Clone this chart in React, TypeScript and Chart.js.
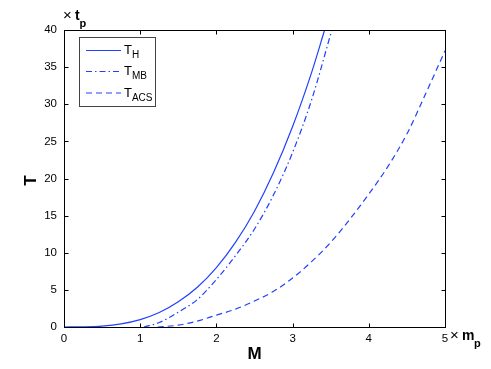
import React, { useEffect, useRef } from "react";
import { Chart, registerables } from "chart.js";

Chart.register(...registerables);

// T_H (solid)
const massH = [0, 0.25, 0.5, 0.75, 1, 1.25, 1.5, 1.75, 2, 2.25, 2.5, 2.75, 3, 3.25, 3.42];
const tempH = [0, 0.02, 0.12, 0.42, 1.0, 1.95, 3.4, 5.35, 8.0, 11.4, 15.6, 20.8, 27.0, 34.3, 40];

// T_MB (dash-dot)
const massMB = [1.05, 1.25, 1.5, 1.75, 2, 2.25, 2.5, 2.75, 3, 3.25, 3.515];
const tempMB = [0, 0.6, 2.0, 3.7, 6.4, 9.6, 13.2, 17.8, 23.5, 30.6, 40];

// T_ACS (dashed)
const massACS = [1.23, 1.5, 1.75, 2, 2.25, 2.5, 2.75, 3, 3.25, 3.5, 3.75, 4, 4.25, 4.5, 4.75, 5];
const tempACS = [0, 0.25, 0.8, 1.6, 2.4, 3.5, 4.8, 6.6, 8.8, 11.4, 14.5, 17.9, 21.6, 26.0, 31.5, 37.2];

const xTickValues = [0, 1, 2, 3, 4, 5];
const yTickValues = [0, 5, 10, 15, 20, 25, 30, 35, 40];

const legendNames = ["H", "MB", "ACS"];
const dashes: number[][] = [[], [6, 3, 1.5, 3], [6, 4]];

const BLUE = "#2040ff";
const FONT = "'Liberation Sans', Arial, Helvetica, sans-serif";

const pts = (xs: number[], ys: number[]) => xs.map((x, i) => ({ x, y: ys[i] }));

const overlayPlugin = {
  id: "overlay",
  afterDatasetsDraw(chart: any) {
    const { ctx, chartArea: a, scales } = chart;
    const L = Math.round(a.left) + 0.5;
    const R = Math.round(a.right) + 0.5;
    const T = Math.round(a.top) + 0.5;
    const B = Math.round(a.bottom) + 0.5;
    ctx.save();
    ctx.strokeStyle = "#000";
    ctx.lineWidth = 1;
    ctx.setLineDash([]);
    ctx.strokeRect(L, T, R - L, B - T);
    const tl = 4;
    ctx.beginPath();
    xTickValues.forEach((v) => {
      const px = Math.round(scales.x.getPixelForValue(v)) + 0.5;
      ctx.moveTo(px, B); ctx.lineTo(px, B - tl);
      ctx.moveTo(px, T); ctx.lineTo(px, T + tl);
    });
    yTickValues.forEach((v) => {
      const py = Math.round(scales.y.getPixelForValue(v)) + 0.5;
      ctx.moveTo(L, py); ctx.lineTo(L + tl, py);
      ctx.moveTo(R, py); ctx.lineTo(R - tl, py);
    });
    ctx.stroke();

    // Legend
    const lx = 79.5, ly = 37.5, lw = 76, lh = 69;
    ctx.fillStyle = "#fff";
    ctx.fillRect(lx, ly, lw, lh);
    ctx.strokeStyle = "#444";
    ctx.strokeRect(lx, ly, lw, lh);
    const rows = [50, 71, 92.5];
    rows.forEach((ry, i) => {
      ctx.strokeStyle = BLUE;
      ctx.lineWidth = 1;
      ctx.setLineDash(dashes[i]);
      ctx.beginPath();
      ctx.moveTo(86, ry + 0.5);
      ctx.lineTo(121, ry + 0.5);
      ctx.stroke();
      ctx.setLineDash([]);
      ctx.fillStyle = "#000";
      ctx.textAlign = "left";
      ctx.textBaseline = "alphabetic";
      ctx.font = `13px ${FONT}`;
      ctx.fillText("T", 124, ry + 4);
      const w = ctx.measureText("T").width;
      ctx.font = `10px ${FONT}`;
      ctx.fillText(legendNames[i], 124 + w, ry + 8);
    });

    // Axis titles
    ctx.fillStyle = "#000";
    ctx.font = `bold 17px ${FONT}`;
    ctx.textAlign = "center";
    ctx.textBaseline = "middle";
    ctx.fillText("M", (a.left + a.right) / 2, 354);
    ctx.save();
    ctx.translate(31, (a.top + a.bottom) / 2 + 2);
    ctx.rotate(-Math.PI / 2);
    ctx.fillText("T", 0, 0);
    ctx.restore();

    // Multipliers
    ctx.textAlign = "left";
    ctx.textBaseline = "alphabetic";
    ctx.font = `15px ${FONT}`;
    ctx.fillText("\u00d7", 63, 20);
    ctx.font = `bold 14px ${FONT}`;
    ctx.fillText("t", 75, 20);
    ctx.font = `bold 11px ${FONT}`;
    ctx.fillText("p", 79.5, 27);

    ctx.font = `15px ${FONT}`;
    ctx.fillText("\u00d7", 450, 340);
    ctx.font = `bold 14px ${FONT}`;
    ctx.fillText("m", 462, 340);
    ctx.font = `bold 11px ${FONT}`;
    ctx.fillText("p", 474, 347);
    ctx.restore();
  },
};

export default function App() {
  const ref = useRef<HTMLCanvasElement>(null);
  useEffect(() => {
    if (!ref.current) return;
    const mk = (label: string, xs: number[], ys: number[], dash: number[]) => ({
      label,
      data: pts(xs, ys),
      borderColor: BLUE,
      backgroundColor: BLUE,
      borderWidth: 1.2,
      borderDash: dash,
      pointRadius: 0,
      tension: 0.4,
      cubicInterpolationMode: "monotone" as const,
      fill: false,
    });
    const chart = new Chart(ref.current, {
      type: "line",
      data: {
        datasets: [
          mk("T_H", massH, tempH, dashes[0]),
          mk("T_MB", massMB, tempMB, dashes[1]),
          mk("T_ACS", massACS, tempACS, dashes[2]),
        ],
      },
      options: {
        responsive: false,
        animation: false,
        events: [],
        layout: { padding: { top: 30, right: 46, left: 0, bottom: 0 } },
        plugins: { legend: { display: false }, tooltip: { enabled: false } },
        scales: {
          x: {
            type: "linear",
            min: 0,
            max: 5,
            afterFit: (s: any) => { s.height = 42; },
            afterBuildTicks: (s: any) => { s.ticks = xTickValues.map((v) => ({ value: v })); },
            grid: { display: false, drawTicks: false },
            border: { display: false },
            ticks: { color: "#000", padding: 5, font: { family: FONT, size: 11.5 } },
          },
          y: {
            type: "linear",
            min: 0,
            max: 40,
            afterFit: (s: any) => { s.width = 64; },
            afterBuildTicks: (s: any) => { s.ticks = yTickValues.map((v) => ({ value: v })); },
            grid: { display: false, drawTicks: false },
            border: { display: false },
            ticks: { color: "#000", padding: 7, font: { family: FONT, size: 11.5 } },
          },
        },
      },
      plugins: [overlayPlugin],
    });
    return () => chart.destroy();
  }, []);
  return (
    <div style={{ position: "fixed", left: 0, top: 0, width: 491, height: 369, background: "#fff" }}>
      <canvas ref={ref} width={491} height={369} style={{ display: "block" }} />
    </div>
  );
}
